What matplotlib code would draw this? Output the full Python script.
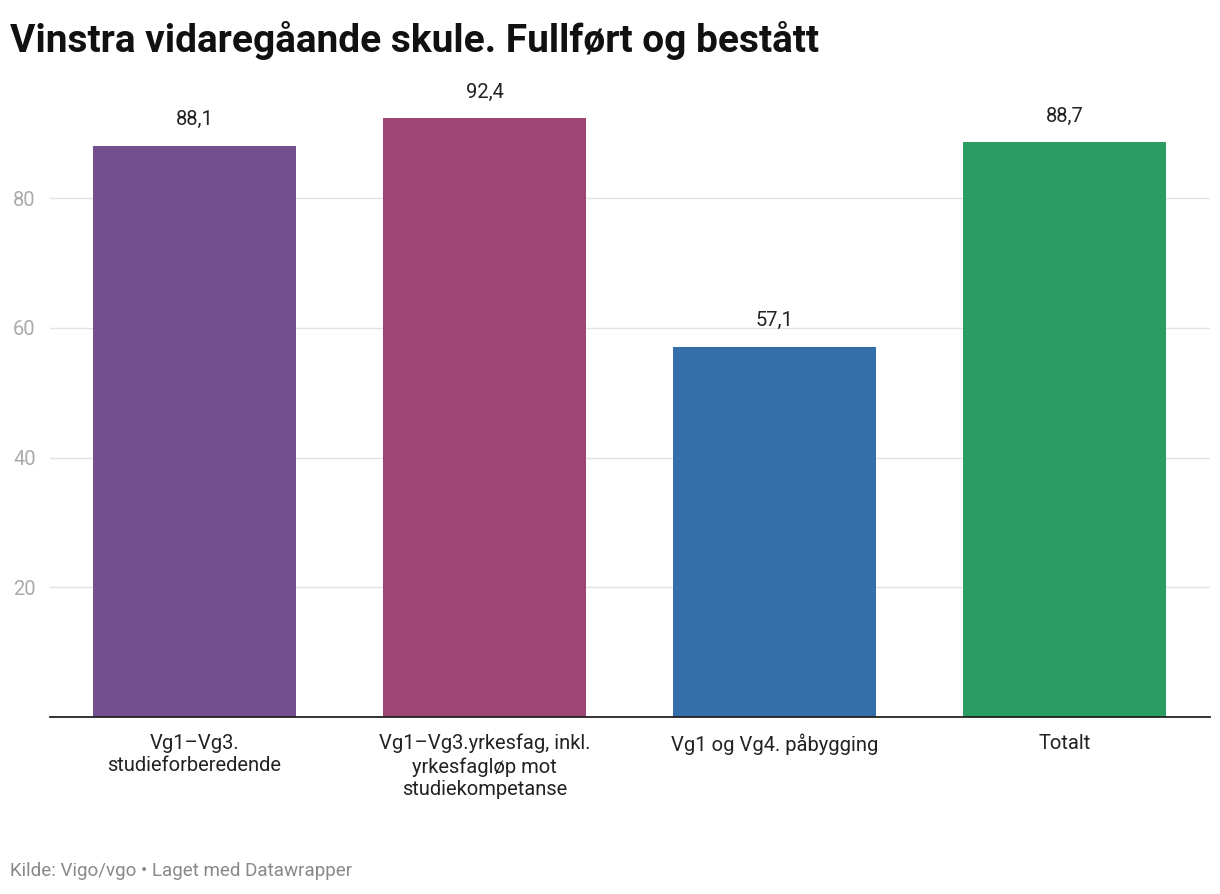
import matplotlib
matplotlib.use("Agg")
import matplotlib.pyplot as plt

categories = ["Vg1–Vg3.\nstudieforberedende",
              "Vg1–Vg3.yrkesfag, inkl.\nyrkesfagløp mot\nstudiekompetanse",
              "Vg1 og Vg4. påbygging", "Totalt"]
values = [88.1, 92.4, 57.1, 88.7]
colors = ["#734f90", "#9e4576", "#346fab", "#2a9e62"]
yticks = [20, 40, 60, 80]

plt.rcParams["font.family"] = "Roboto"
fig = plt.figure(figsize=(12.2, 8.94), dpi=100)
ax = fig.add_axes([0.0406, 0.198, 0.9508, 0.7125])
x = range(len(values))
ax.bar(x, values, width=0.7, color=colors, zorder=2)
for i, v in zip(x, values):
    ax.text(i, v + 2.5, f"{v:.1f}".replace(".", ","), ha="center", va="bottom",
            fontsize=14.5, color="#222222")
ax.set_xlim(-0.5, len(values) - 0.5)
ax.set_ylim(0, 98.2)
ax.set_yticks(yticks)
ax.set_yticklabels([str(t) for t in yticks], fontsize=14.5, color="#aaaaaa")
ax.set_xticks(list(x))
ax.set_xticklabels(categories, fontsize=14.5, color="#222222", va="top", linespacing=1.25)
ax.tick_params(axis="both", length=0)
ax.tick_params(axis="x", pad=12)
ax.tick_params(axis="y", pad=10)
ax.grid(axis="y", color="#e2e2e2", linewidth=1, zorder=0)
for s in ["top", "right", "left"]:
    ax.spines[s].set_visible(False)
ax.spines["bottom"].set_color("#222222")
ax.spines["bottom"].set_linewidth(1.3)
ax.spines["bottom"].set_zorder(3)

fig.text(0.008, 0.955, "Vinstra vidaregåande skule. Fullført og bestått",
         fontsize=28, fontweight="bold", va="center", ha="left", color="#111111")
fig.text(0.008, 0.026, "Kilde: Vigo/vgo • Laget med Datawrapper", fontsize=13.5,
         color="#888888", va="center", ha="left")
fig.savefig("out.png", dpi=100)
